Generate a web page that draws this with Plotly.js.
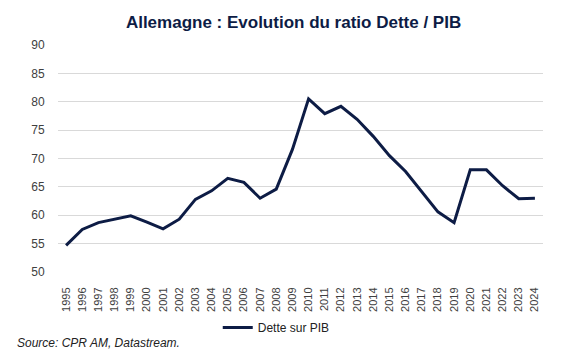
<!DOCTYPE html>
<html><head><meta charset="utf-8">
<script src="https://cdn.plot.ly/plotly-3.0.1.min.js"></script>
<style>html,body{margin:0;padding:0;background:#fff;}#chart{width:570px;height:360px;}</style>
</head><body><div id="chart"></div>
<script>
var years = ["1995","1996","1997","1998","1999","2000","2001","2002","2003","2004","2005","2006","2007","2008","2009","2010","2011","2012","2013","2014","2015","2016","2017","2018","2019","2020","2021","2022","2023","2024"];
var detteSurPIB = [54.7,57.5,58.7,59.3,59.9,58.8,57.6,59.3,62.8,64.3,66.5,65.8,63.0,64.6,71.6,80.5,77.9,79.2,76.9,73.9,70.5,67.7,64.1,60.6,58.7,68.0,68.0,65.2,62.9,63.0];
var yTicks = [50,55,60,65,70,75,80,85,90];
var seriesName = "Dette sur PIB";
var titleText = "Allemagne : Evolution du ratio Dette / PIB";
var sourceText = "Source: CPR AM, Datastream.";

var navy = "#0d1c45";
var trace = {x: years, y: detteSurPIB, type: "scatter", mode: "lines", name: seriesName,
  line: {color: navy, width: 3}};
var layout = {
  width: 570, height: 360,
  margin: {l: 58, r: 27, t: 45, b: 88},
  paper_bgcolor: "#fff", plot_bgcolor: "#fff",
  font: {family: "Liberation Sans, Arial, sans-serif", color: "#404040", size: 12},
  title: {text: "<b>" + titleText + "</b>", x: 0.515, xanchor: "center", y: 0.94, yanchor: "middle",
    font: {size: 17, color: navy, family: "Liberation Sans, Arial, sans-serif"}},
  xaxis: {type: "category", range: [-0.5, years.length - 0.5], tickangle: -90, showgrid: false, zeroline: false, showline: false,
    ticks: "outside", ticklen: 10, tickcolor: "rgba(0,0,0,0)", tickfont: {size: 11, color: "#404040"}},
  yaxis: {range: [50, 90], tickvals: yTicks, showgrid: true, gridcolor: "#d9d9d9", gridwidth: 1,
    zeroline: false, showline: false, ticks: "outside", ticklen: 10, tickcolor: "rgba(0,0,0,0)",
    tickfont: {size: 12, color: "#404040"}},
  showlegend: true,
  legend: {orientation: "h", x: 0.45, xanchor: "center", y: -0.245, yanchor: "middle",
    font: {size: 12, color: "#222"}},
  annotations: [{text: "<i>" + sourceText + "</i>", xref: "paper", yref: "paper", x: -0.088, y: -0.313,
    xanchor: "left", yanchor: "middle", showarrow: false, font: {size: 12, color: "#222"}}]
};
Plotly.newPlot("chart", [trace], layout, {displayModeBar: false, staticPlot: true});
</script></body></html>
